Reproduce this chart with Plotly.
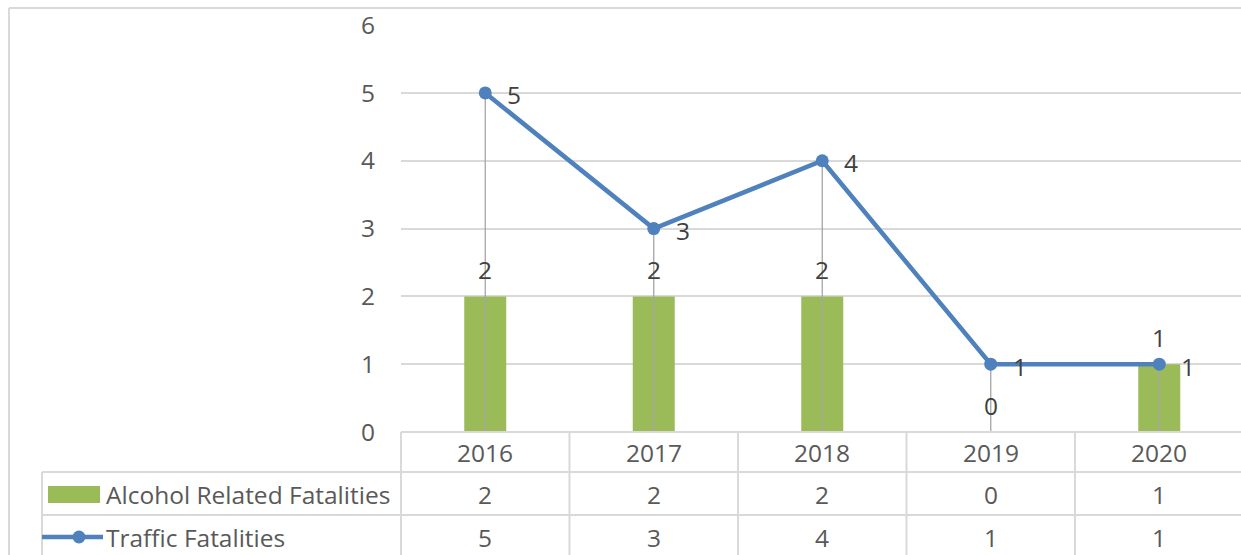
import plotly.graph_objects as go

years = ["2016", "2017", "2018", "2019", "2020"]
alcohol = [2, 2, 2, 0, 1]
traffic = [5, 3, 4, 1, 1]
y_ticks = [0, 1, 2, 3, 4, 5, 6]

GREEN = "#9BBB59"
BLUE = "#4F81BD"
GRID = "#D9D9D9"
TEXT = "#595959"
LABEL = "#404040"
FONT = "Open Sans, Noto Sans, sans-serif"
FS = 24.5

W, H = 1241, 555
PL, PT, PB = 401, 25, 432      # plot area in pixels
CAT = 168.5                    # category width in pixels


def px(x):
    return (x - PL) / (W - PL)


def py(y):
    return (PB - y) / (PB - PT)


xs = list(range(len(years)))

fig = go.Figure()

fig.add_trace(go.Bar(
    x=xs, y=alcohol, name="Alcohol Related Fatalities",
    marker_color=GREEN, marker_line_width=0, width=42 / CAT,
    hoverinfo="skip",
))

# drop lines from each point down to the axis
drop_x, drop_y = [], []
for x, v in zip(xs, traffic):
    drop_x += [x, x, None]
    drop_y += [0, v, None]
fig.add_trace(go.Scatter(
    x=drop_x, y=drop_y, mode="lines",
    line=dict(color="#A5A5A5", width=1.3), hoverinfo="skip", showlegend=False,
))

fig.add_trace(go.Scatter(
    x=xs, y=traffic, mode="lines+markers", name="Traffic Fatalities",
    line=dict(color=BLUE, width=4.5), marker=dict(size=13, color=BLUE),
))

annotations = []
for x, v in zip(xs, alcohol):
    annotations.append(dict(
        x=x, y=v, text=str(v), showarrow=False, yshift=27,
        xanchor="center", yanchor="middle",
        font=dict(size=FS, color=LABEL, family=FONT),
    ))
for x, v in zip(xs, traffic):
    annotations.append(dict(
        x=x, y=v, text=str(v), showarrow=False, xshift=29, yshift=-2,
        xanchor="center", yanchor="middle",
        font=dict(size=FS, color=LABEL, family=FONT),
    ))

# data table below the plot
row_y = [452, 494, 537]
for i, yr in enumerate(years):
    cx = px(PL + CAT * (i + 0.5))
    for ry, txt in zip(row_y, [yr, str(alcohol[i]), str(traffic[i])]):
        annotations.append(dict(
            x=cx, y=py(ry), xref="paper", yref="paper", text=txt,
            xanchor="center", yanchor="middle", showarrow=False,
            font=dict(size=FS, color=TEXT, family=FONT),
        ))
for ry, txt in zip(row_y[1:], ["Alcohol Related Fatalities", "Traffic Fatalities"]):
    annotations.append(dict(
        x=px(104), y=py(ry), xref="paper", yref="paper", text=txt,
        xanchor="left", yanchor="middle", showarrow=False,
        font=dict(size=FS, color=TEXT, family=FONT),
    ))

line_style = dict(color=GRID, width=2)
END_X, END_Y = W + 5, H + 5
shapes = [
    # outer chart border
    dict(type="line", xref="paper", yref="paper", x0=px(9), x1=px(END_X),
         y0=py(8), y1=py(8), line=line_style),
    dict(type="line", xref="paper", yref="paper", x0=px(9), x1=px(9),
         y0=py(8), y1=py(END_Y), line=line_style),
    # table grid
    dict(type="line", xref="paper", yref="paper", x0=px(PL), x1=px(END_X),
         y0=py(432), y1=py(432), line=line_style),
    dict(type="line", xref="paper", yref="paper", x0=px(42), x1=px(END_X),
         y0=py(472), y1=py(472), line=line_style),
    dict(type="line", xref="paper", yref="paper", x0=px(42), x1=px(END_X),
         y0=py(515), y1=py(515), line=line_style),
    dict(type="line", xref="paper", yref="paper", x0=px(42), x1=px(42),
         y0=py(472), y1=py(END_Y), line=line_style),
]
for i in range(len(years)):
    bx = px(PL + CAT * i)
    shapes.append(dict(type="line", xref="paper", yref="paper", x0=bx, x1=bx,
                       y0=py(432), y1=py(END_Y), line=line_style))

# legend keys inside the table
shapes.append(dict(type="rect", xref="paper", yref="paper", x0=px(48), x1=px(100),
                   y0=py(486), y1=py(503), fillcolor=GREEN, line_width=0))
shapes.append(dict(type="line", xref="paper", yref="paper", x0=px(42), x1=px(103),
                   y0=py(537), y1=py(537), line=dict(color=BLUE, width=4.5)))
shapes.append(dict(type="circle", xref="paper", yref="paper",
                   x0=px(72.5), x1=px(85.5), y0=py(530.5), y1=py(543.5),
                   fillcolor=BLUE, line_width=0))

fig.update_layout(
    width=W, height=H,
    margin=dict(l=PL, r=0, t=PT, b=H - PB),
    paper_bgcolor="white", plot_bgcolor="white",
    showlegend=False,
    annotations=annotations,
    shapes=shapes,
    font=dict(family=FONT, color=TEXT, size=FS),
)
fig.update_xaxes(
    range=[-0.5, -0.5 + (W - PL) / CAT], showticklabels=False,
    showgrid=False, zeroline=False, showline=False, ticks="",
)
fig.update_yaxes(
    range=[0, 6.002], tickvals=y_ticks, showgrid=True, gridcolor=GRID, gridwidth=2,
    zeroline=False, showline=False, ticks="", ticklabelstandoff=25,
    tickfont=dict(size=FS, color=TEXT, family=FONT),
)

# drop the default body margin so the figure fills the window exactly
fig.write_html(
    "out.html",
    config={"displayModeBar": False},
    post_script="document.body.style.margin='0';document.body.style.overflow='hidden';",
)
